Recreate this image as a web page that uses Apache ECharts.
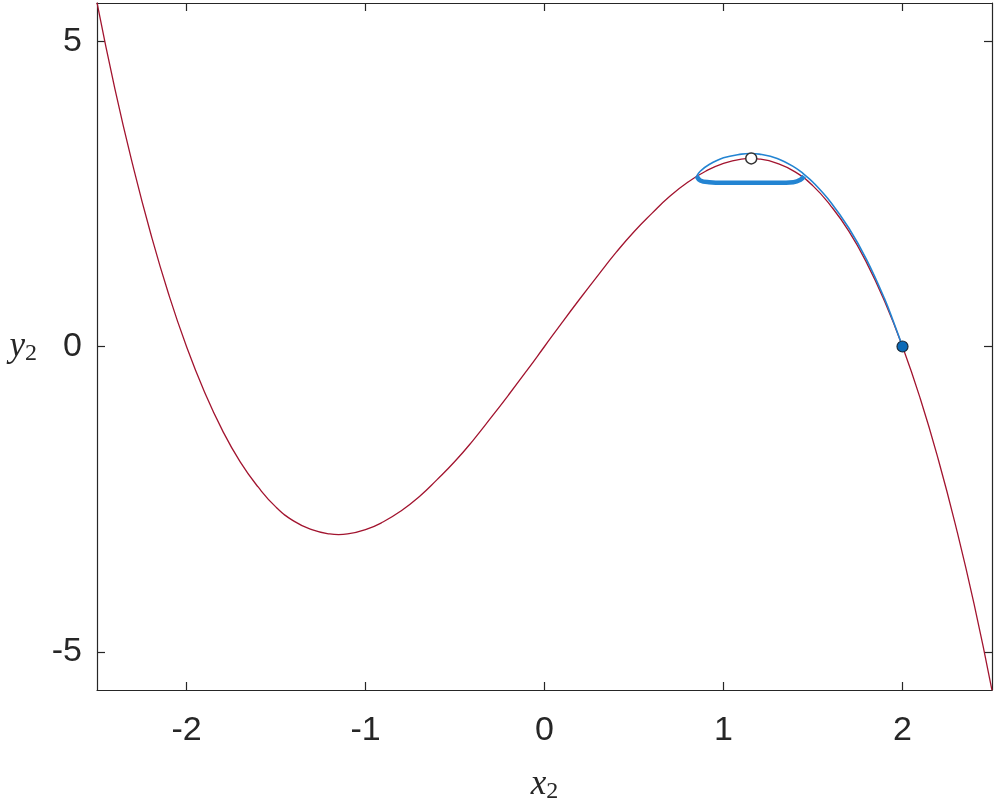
<!DOCTYPE html>
<html>
<head>
<meta charset="utf-8">
<script src="https://cdn.jsdelivr.net/npm/echarts@6/dist/echarts.min.js"></script>
<style>
  html, body { margin: 0; padding: 0; background: #fff; }
  #chart { width: 996px; height: 801px; }
</style>
</head>
<body>
<div id="chart"></div>
<script>
// red curve
const curveX = [-2.5, -2.4, -2.3, -2.2, -2.1, -2.0, -1.9, -1.8, -1.7, -1.6, -1.5, -1.4, -1.3, -1.2, -1.15, -1.1, -1.0,
  -0.9, -0.8, -0.7, -0.6, -0.5, -0.4, -0.3, -0.2, -0.1, 0,
  0.1, 0.2, 0.3, 0.4, 0.5, 0.6, 0.7, 0.8, 0.9, 1.0, 1.1, 1.15, 1.2, 1.3, 1.4, 1.5, 1.6, 1.7, 1.8, 1.9, 2.0,
  2.1, 2.2, 2.3, 2.4, 2.5]
const curveY = [5.63, 4.22, 2.97, 1.85, 0.86, 0, -0.74, -1.37, -1.89, -2.30, -2.63, -2.86, -3.00, -3.07, -3.08, -3.07, -3.00,
  -2.87, -2.69, -2.46, -2.18, -1.88, -1.54, -1.17, -0.79, -0.40, 0,
  0.40, 0.79, 1.17, 1.54, 1.88, 2.18, 2.46, 2.69, 2.87, 3.00, 3.07, 3.08, 3.07, 3.00, 2.86, 2.63, 2.30, 1.89, 1.37, 0.74, 0,
  -0.86, -1.85, -2.97, -4.22, -5.63]

// blue trajectory, from the start point up over the hump
const trajX = [2.0, 1.95, 1.9, 1.8, 1.7, 1.6, 1.5, 1.45, 1.4, 1.3, 1.2, 1.15, 1.1, 1.0, 0.92, 0.87, 0.85]
const trajY = [0, 0.40, 0.78, 1.42, 1.94, 2.36, 2.69, 2.82, 2.93, 3.08, 3.15, 3.16, 3.15, 3.09, 2.98, 2.87, 2.79]

// blue loop (thick lower part)
const loopX = [0.85, 0.87, 0.92, 1.0, 1.15, 1.3, 1.39, 1.43, 1.45]
const loopY = [2.79, 2.72, 2.69, 2.68, 2.68, 2.68, 2.69, 2.73, 2.79]

const startPt = [2.0, 0]
const peakPt = [1.155, 3.08]

const xTicks = [-2, -1, 0, 1, 2]
const yTicks = [-5, 0, 5]

const zip = (xs, ys) => xs.map((x, i) => [x, ys[i]])

const axisColor = '#262626'
const red = '#a2142f'
const blue = '#2384d2'

const chart = echarts.init(document.getElementById('chart'))

const baseAxis = {
  axisLine: { onZero: false, lineStyle: { color: axisColor, width: 1.2 } },
  axisTick: { inside: true, length: 8, lineStyle: { color: axisColor, width: 1.2 } },
  splitLine: { show: false },
  axisLabel: { color: axisColor, fontFamily: 'Liberation Sans', fontSize: 34 }
}

const nameRich = {
  i: { fontFamily: 'Liberation Serif', fontStyle: 'italic', fontSize: 35, color: axisColor },
  s: { fontFamily: 'Liberation Serif', fontSize: 24, color: axisColor, padding: [14, 0, 0, 0] }
}

chart.setOption({
  animation: false,
  grid: { left: 97, right: 4, top: 3, bottom: 111, containLabel: false, outerBoundsMode: 'none' },
  xAxis: [
    Object.assign({}, baseAxis, {
      type: 'value', min: -2.5, max: 2.5, interval: 0.5,
      axisTick: Object.assign({}, baseAxis.axisTick, { customValues: xTicks }),
      axisLabel: Object.assign({}, baseAxis.axisLabel, { customValues: xTicks, margin: 24 }),
      name: '{i|x}{s|2}',
      nameLocation: 'middle',
      nameGap: 76,
      nameTextStyle: { rich: nameRich }
    }),
    Object.assign({}, baseAxis, {
      type: 'value', min: -2.5, max: 2.5, position: 'top',
      axisTick: Object.assign({}, baseAxis.axisTick, { customValues: xTicks }),
      axisLabel: { show: false }
    })
  ],
  yAxis: [
    Object.assign({}, baseAxis, {
      type: 'value', min: -5.625, max: 5.625,
      axisTick: Object.assign({}, baseAxis.axisTick, { customValues: yTicks }),
      axisLabel: Object.assign({}, baseAxis.axisLabel, { customValues: yTicks, margin: 15 }),
      name: '{i|y}{s|2}',
      nameLocation: 'middle',
      nameRotate: 0,
      nameGap: 60,
      nameTextStyle: { align: 'right', rich: nameRich }
    }),
    Object.assign({}, baseAxis, {
      type: 'value', min: -5.625, max: 5.625, position: 'right',
      axisTick: Object.assign({}, baseAxis.axisTick, { customValues: yTicks }),
      axisLabel: { show: false }
    })
  ],
  series: [
    {
      type: 'line', data: zip(curveX, curveY), smooth: 0.5, showSymbol: false,
      lineStyle: { color: red, width: 1.3 }, z: 2
    },
    {
      type: 'line', data: zip(trajX, trajY), smooth: 0.4, showSymbol: false,
      lineStyle: { color: blue, width: 1.6 }, z: 3
    },
    {
      type: 'line', data: zip(loopX, loopY), smooth: 0.4, showSymbol: false,
      lineStyle: { color: blue, width: 4.5 }, z: 3
    },
    {
      type: 'scatter', data: [startPt], symbolSize: 11,
      itemStyle: { color: '#0b6ab7', borderColor: '#1a2a3a', borderWidth: 1.2, opacity: 1 }, z: 5
    },
    {
      type: 'scatter', data: [peakPt], symbolSize: 11,
      itemStyle: { color: '#ffffff', borderColor: '#333333', borderWidth: 1.5, opacity: 1 }, z: 5
    }
  ]
})
</script>
</body>
</html>
